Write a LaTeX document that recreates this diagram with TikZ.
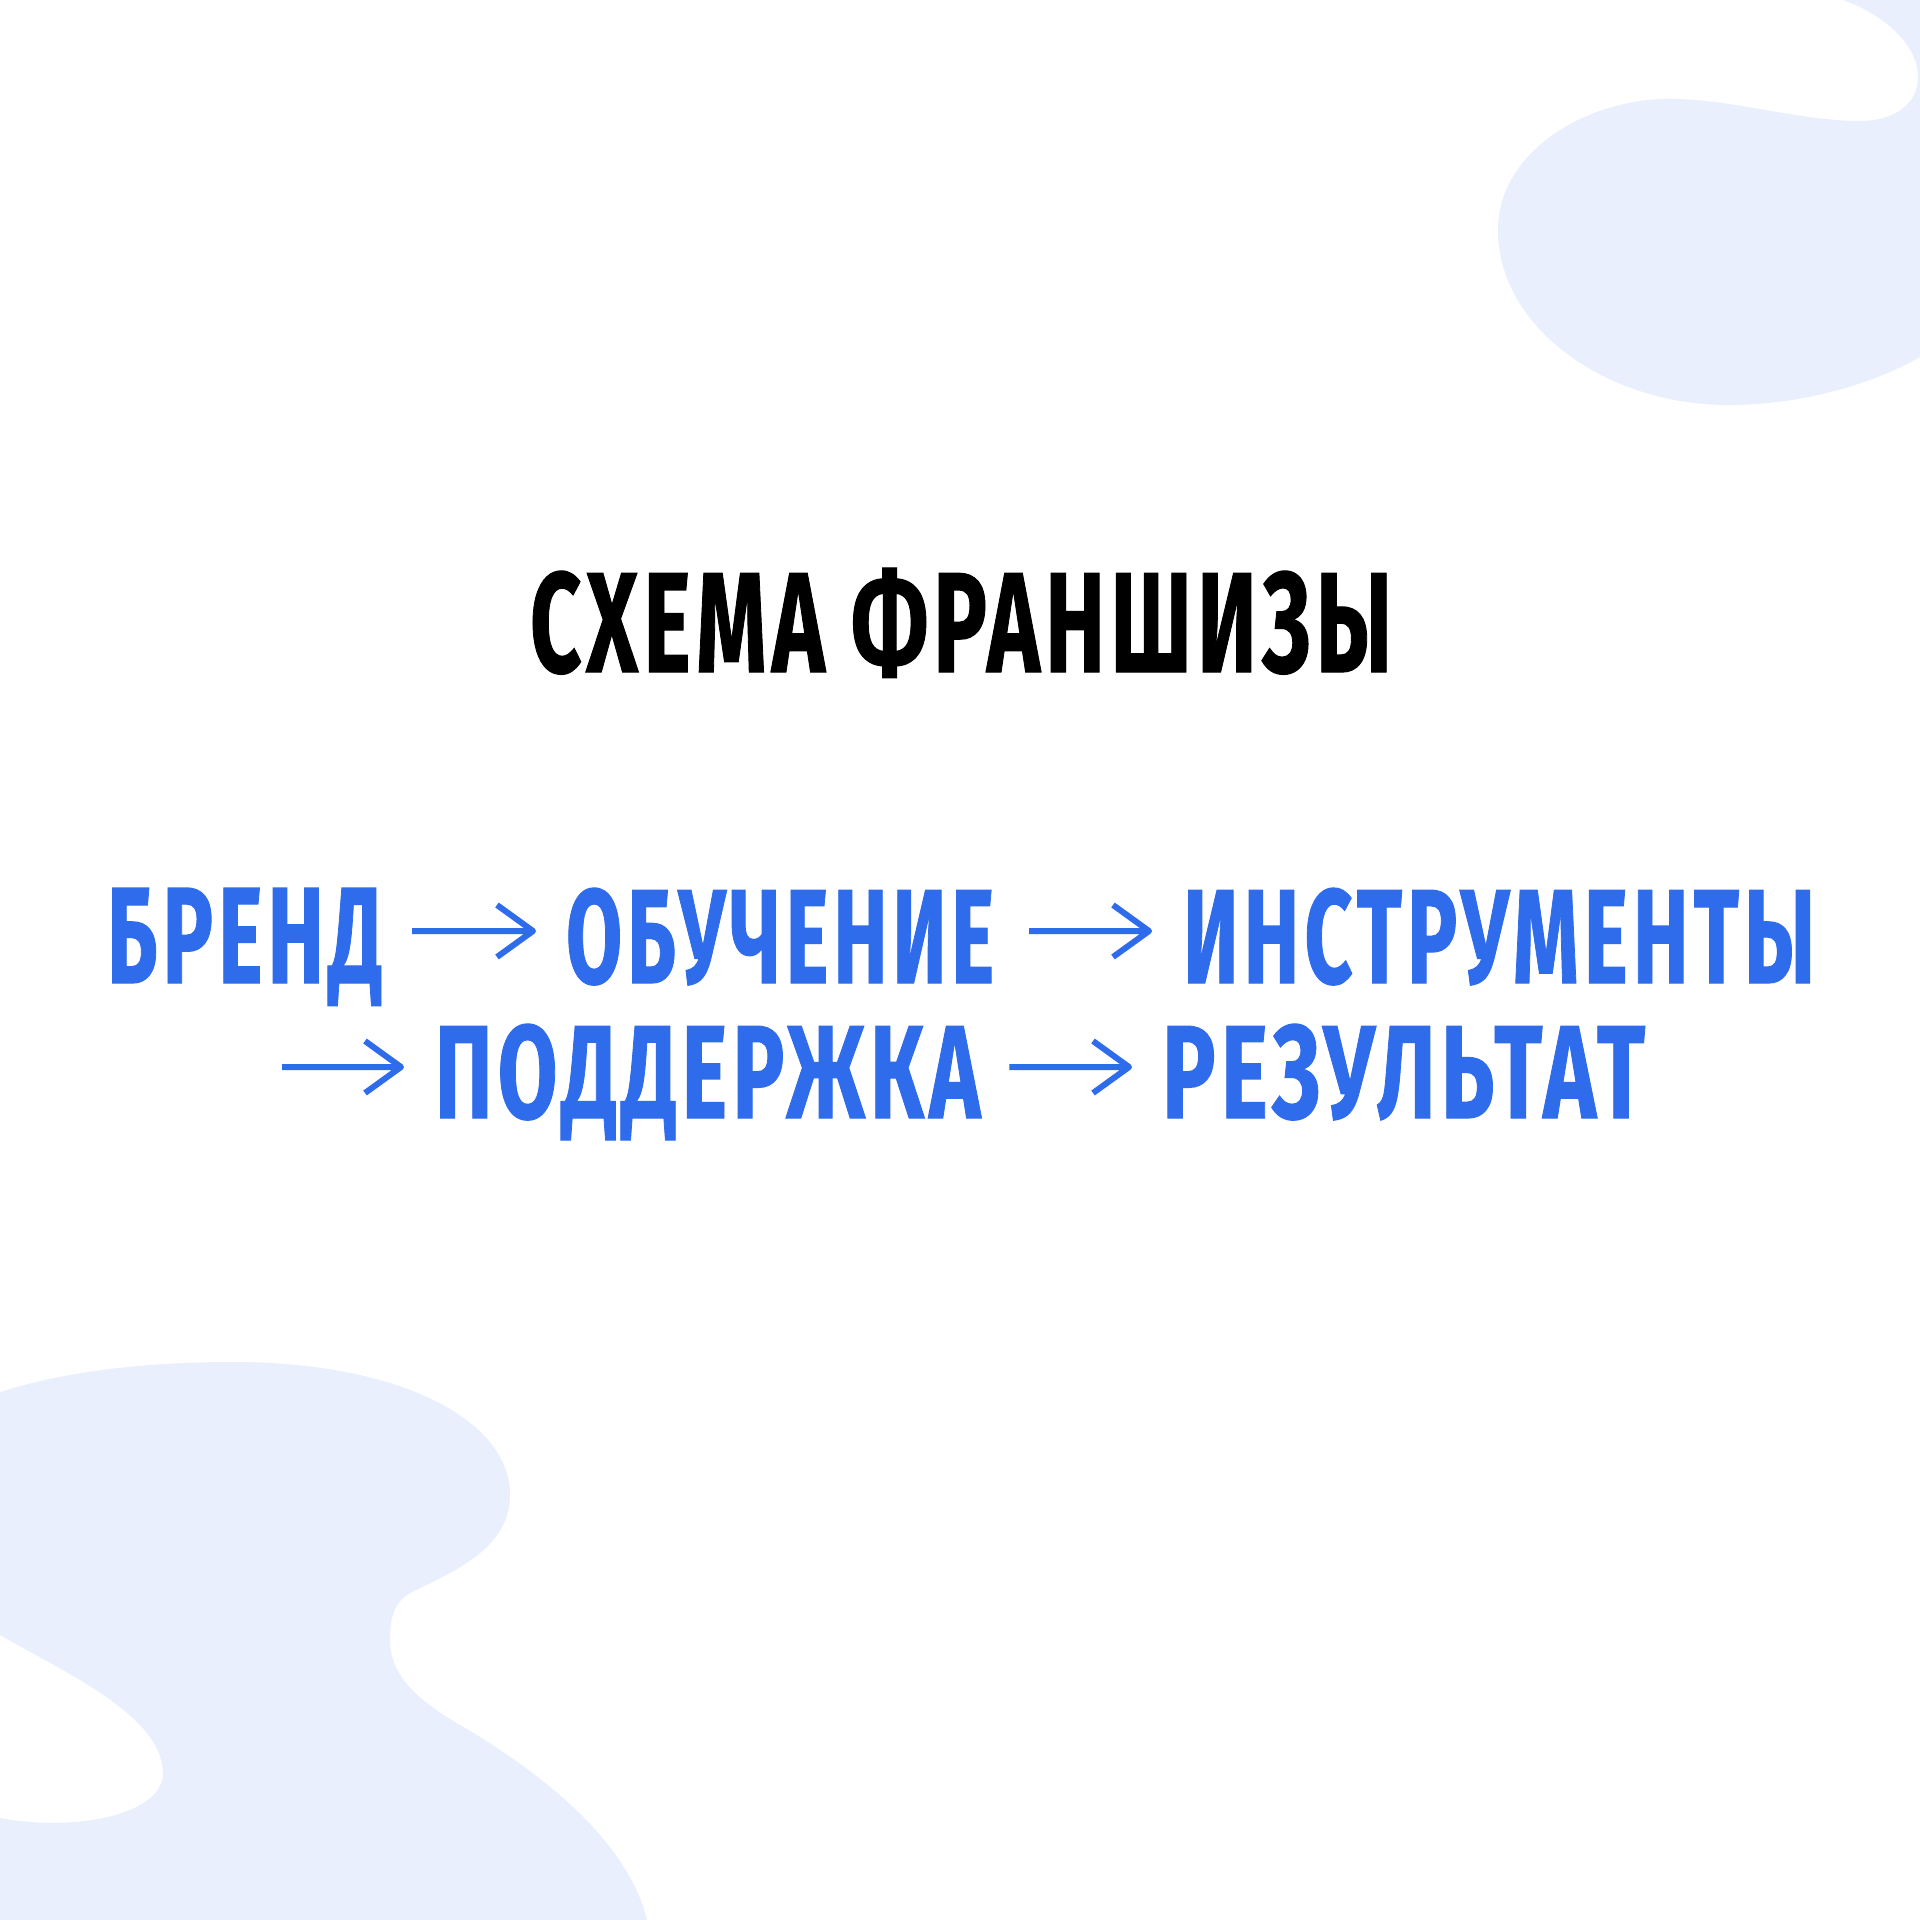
\documentclass[tikz,border=0pt]{standalone}
\usepackage{fontspec}
\usepackage{graphicx}
\setmainfont{Fira Sans}
\newfontfamily\heavyfont{Fira Sans}[UprightFont=* Bold, FakeBold=0.9, LetterSpace=6]
\definecolor{blobc}{RGB}{233,239,252}
\definecolor{bluec}{RGB}{47,108,235}
\tikzset{
  word/.style={anchor=base west, inner sep=0pt, outer sep=0pt, text=bluec, font=\heavyfont},
  flow/.style={draw=bluec, line width=6pt, line join=round},
  blob/.style={fill=blobc}
}
\newcommand{\wbox}[3]{\resizebox{#1pt}{#2pt}{#3}}
\begin{document}
\begin{tikzpicture}[x=1pt,y=-1pt]
\useasboundingbox (0,0) rectangle (1920,1920);
\fill[white] (0,0) rectangle (1920,1920);
% top-right blob
\fill[blob] (1843,0) .. controls (1885,15) and (1918,45) .. (1918,77)
  .. controls (1918,105) and (1893,121) .. (1860,121)
  .. controls (1800,121) and (1730,99) .. (1673,99)
  .. controls (1590,97) and (1498,150) .. (1498,230)
  .. controls (1498,330) and (1610,405) .. (1727,405)
  .. controls (1810,405) and (1880,380) .. (1920,357)
  -- (1920,0) -- cycle;
% bottom-left blob
\fill[blob] (0,1392) .. controls (70,1370) and (150,1362) .. (233,1362)
  .. controls (400,1362) and (510,1420) .. (510,1495)
  .. controls (510,1550) and (450,1573) .. (410,1593)
  .. controls (393,1603) and (390,1620) .. (390,1640)
  .. controls (390,1680) and (425,1705) .. (467,1729)
  .. controls (560,1785) and (630,1850) .. (647,1920)
  -- (0,1920) -- (0,1818)
  .. controls (75,1832) and (163,1815) .. (163,1773)
  .. controls (163,1715) and (60,1670) .. (0,1635)
  -- cycle;
% title
\node[word, text=black] (title) at (530,672) {\wbox{862}{104}{СХЕМА ФРАНШИЗЫ}};
% line 1
\node[word] (brend) at (107,983) {\wbox{275}{95}{БРЕНД}};
\node[word] (obuch) at (566,983) {\wbox{428}{95}{ОБУЧЕНИЕ}};
\node[word] (instr) at (1183,983) {\wbox{632}{95}{ИНСТРУМЕНТЫ}};
% line 2
\coordinate (start2) at (282,1067);
\node[word] (podd) at (435,1118) {\wbox{545}{94}{ПОДДЕРЖКА}};
\node[word] (rez) at (1162,1118) {\wbox{483}{94}{РЕЗУЛЬТАТ}};
% arrows
\draw[flow] ([shift={(30,-52)}]brend.base east) -- ([shift={(-33,-52)}]obuch.base west)
  ++(-36,-26) -- ++(36,26) -- ++(-36,26);
\draw[flow] ([shift={(35,-52)}]obuch.base east) -- ([shift={(-34,-52)}]instr.base west)
  ++(-36,-26) -- ++(36,26) -- ++(-36,26);
\draw[flow] (start2) -- ([shift={(-34,-51)}]podd.base west)
  ++(-36,-26) -- ++(36,26) -- ++(-36,26);
\draw[flow] ([shift={(29,-51)}]podd.base east) -- ([shift={(-33,-51)}]rez.base west)
  ++(-36,-26) -- ++(36,26) -- ++(-36,26);
\end{tikzpicture}
\end{document}
